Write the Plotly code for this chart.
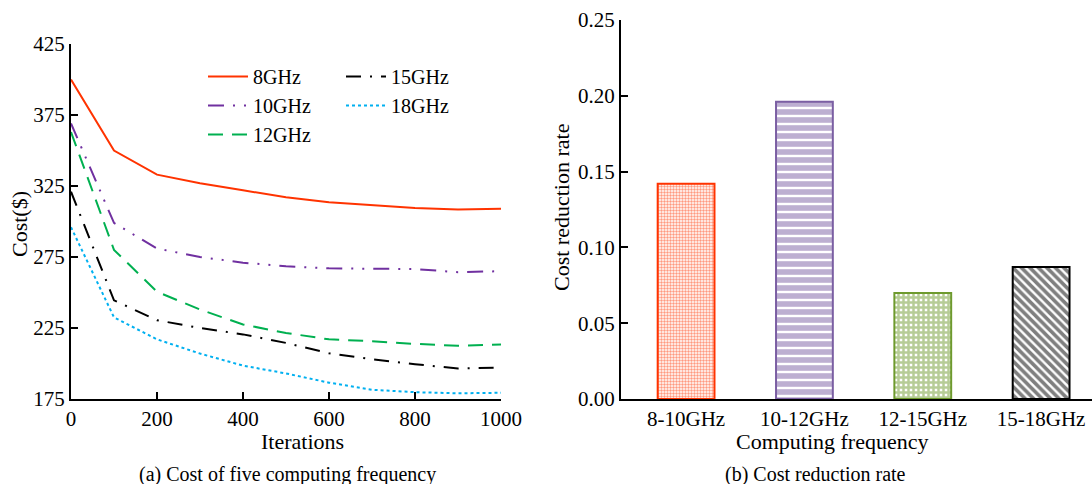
import plotly.graph_objects as go

W, H = 1092, 484

# ---------------- data ----------------
iterations = [0, 100, 200, 300, 400, 500, 600, 700, 800, 900, 1000]
cost_8ghz = [400, 350, 333, 327, 322, 317, 313.5, 311.5, 309.5, 308.5, 309]
cost_10ghz = [369, 299, 281, 275, 271, 268.5, 267, 266.8, 266.5, 264.3, 265]
cost_12ghz = [363, 280, 250.5, 238, 227.5, 221.5, 217, 215.7, 213.8, 212.5, 213.3]
cost_15ghz = [321, 244.5, 230.5, 225, 220.5, 214.5, 207.2, 203, 199.5, 196.5, 197.2]
cost_18ghz = [296, 232.5, 217, 207, 198.5, 193, 186.5, 181.5, 179.8, 179, 179.4]
series_names = ["8GHz", "10GHz", "12GHz", "15GHz", "18GHz"]

freq_pairs = ["8-10GHz", "10-12GHz", "12-15GHz", "15-18GHz"]
reduction_rate = [0.142, 0.196, 0.070, 0.087]

cost_ticks = [175, 225, 275, 325, 375, 425]
rate_ticks = [0.00, 0.05, 0.10, 0.15, 0.20, 0.25]

# ---------------- styling ----------------
FONT = "Liberation Serif"
FS_TICK = 21
FS_TITLE = 22
FS_LEG = 20
FS_CAP = 20
line_styles = {
    "8GHz": dict(color="#FF3300", dash="solid"),
    "10GHz": dict(color="#7030A0", dash="16px,9px,2px,9px,2px,9px"),
    "12GHz": dict(color="#00B050", dash="15px,9px"),
    "15GHz": dict(color="#000000", dash="15px,9px,2px,9px"),
    "18GHz": dict(color="#00B0F0", dash="3px,3px"),
}
legend_of = {"8GHz": "legend", "10GHz": "legend", "12GHz": "legend",
             "15GHz": "legend2", "18GHz": "legend2"}

def px_x(p):
    return p / W

def px_y(p):
    return 1 - p / H

fig = go.Figure()

all_costs = [cost_8ghz, cost_10ghz, cost_12ghz, cost_15ghz, cost_18ghz]
for name, ys in zip(series_names, all_costs):
    st = line_styles[name]
    fig.add_trace(go.Scatter(
        x=iterations, y=ys, name=name, mode="lines",
        line=dict(color=st["color"], dash=st["dash"], width=2),
        xaxis="x", yaxis="y", legend=legend_of[name],
    ))

bar_colors = ["#FF3300", "#7B5FA3", "#6E9A2E", "#000000"]
bar_patterns = [
    dict(shape=".", size=3, solidity=0.5),
    dict(shape="-", size=8, solidity=0.7),
    dict(shape="+", size=5, solidity=0.75),
    dict(shape="\\", size=6, solidity=0.6),
]
for cat, val, col, pat in zip(freq_pairs, reduction_rate, bar_colors, bar_patterns):
    fig.add_trace(go.Bar(
        x=[cat], y=[val], width=0.48, showlegend=False,
        marker=dict(color="white", line=dict(color=col, width=2),
                    pattern=dict(fgcolor=col, bgcolor="white", **pat)),
        xaxis="x2", yaxis="y2",
    ))

axis_common = dict(
    showline=True, linecolor="black", linewidth=2,
    ticks="inside", ticklen=7, tickwidth=2, tickcolor="black",
    showgrid=False, zeroline=False, mirror=False,
    tickfont=dict(family=FONT, size=FS_TICK, color="black"),
    automargin=False,
)

fig.update_layout(
    width=W, height=H, autosize=False,
    margin=dict(l=0, r=0, t=0, b=0),
    paper_bgcolor="white", plot_bgcolor="white",
    font=dict(family=FONT, size=FS_TICK, color="black"),
    barmode="overlay",
    xaxis=dict(domain=[px_x(71), px_x(501)], range=[0, 1000],
               tickvals=[0, 200, 400, 600, 800, 1000], anchor="y", **axis_common),
    yaxis=dict(domain=[px_y(399), px_y(44)], range=[175, 425],
               tickvals=cost_ticks, anchor="x", **axis_common),
    xaxis2=dict(domain=[px_x(621), 1.0], range=[-0.55, 3.43], type="category",
                anchor="y2", **{**axis_common, "ticks": ""}),
    yaxis2=dict(domain=[px_y(399), px_y(20)], range=[0, 0.25],
                tickvals=rate_ticks, tickformat=".2f", anchor="x2", **axis_common),
    legend=dict(x=px_x(203), y=px_y(57), xanchor="left", yanchor="top",
                bgcolor="rgba(0,0,0,0)", font=dict(family=FONT, size=FS_LEG),
                tracegroupgap=0, itemwidth=40),
    legend2=dict(x=px_x(341), y=px_y(57), xanchor="left", yanchor="top",
                 bgcolor="rgba(0,0,0,0)", font=dict(family=FONT, size=FS_LEG),
                 tracegroupgap=0, itemwidth=40),
)

annots = [
    dict(text="Iterations", x=px_x(302), y=px_y(441), size=FS_TITLE),
    dict(text="Computing frequency", x=px_x(832), y=px_y(441), size=FS_TITLE),
    dict(text="(a) Cost of five computing frequency", x=px_x(287), y=px_y(474), size=FS_CAP),
    dict(text="(b) Cost reduction rate", x=px_x(815), y=px_y(474), size=FS_CAP),
    dict(text="Cost($)", x=px_x(19), y=px_y(224), textangle=-90, size=FS_TITLE),
    dict(text="Cost reduction rate", x=px_x(561), y=px_y(208), textangle=-90, size=FS_TITLE),
]
for a in annots:
    sz = a.pop("size")
    fig.add_annotation(xref="paper", yref="paper", showarrow=False,
                       xanchor="center", yanchor="middle",
                       font=dict(family=FONT, size=sz, color="black"), **a)

fig.write_html("out.html")
